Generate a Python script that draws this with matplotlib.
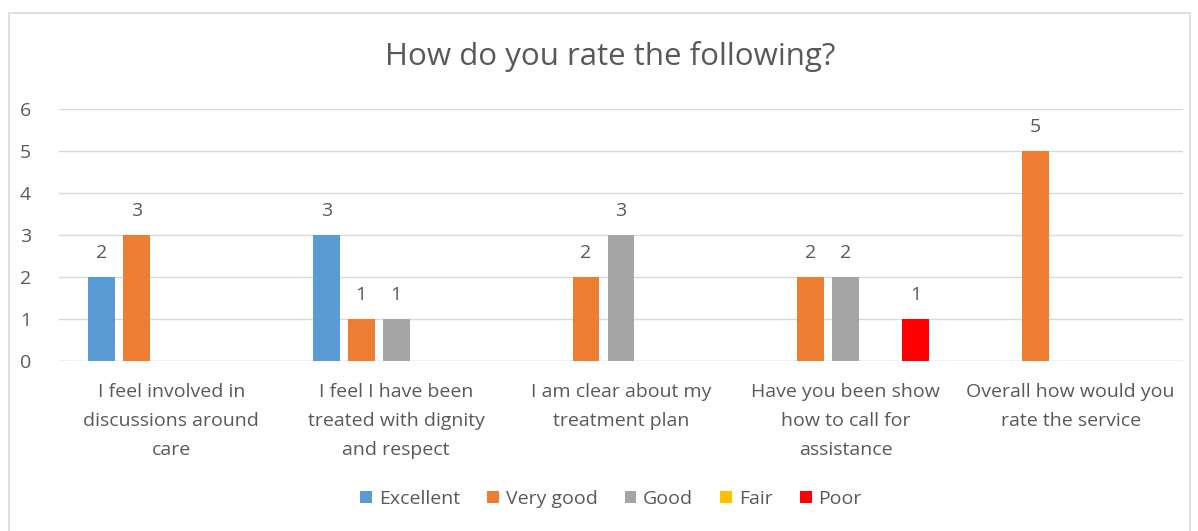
import matplotlib
matplotlib.use("Agg")
import matplotlib.pyplot as plt
import numpy as np
from matplotlib.patches import Rectangle

categories = [
    "I feel involved in\ndiscussions around\ncare",
    "I feel I have been\ntreated with dignity\nand respect",
    "I am clear about my\ntreatment plan",
    "Have you been show\nhow to call for\nassistance",
    "Overall how would you\nrate the service",
]
series_names = ["Excellent", "Very good", "Good", "Fair", "Poor"]
excellent = [2, 3, 0, 0, 0]
very_good = [3, 1, 2, 2, 5]
good = [0, 1, 3, 2, 0]
fair = [0, 0, 0, 0, 0]
poor = [0, 0, 0, 1, 0]
colors = ["#5B9BD5", "#ED7D31", "#A5A5A5", "#FFC000", "#FF0000"]

series = [excellent, very_good, good, fair, poor]

plt.rcParams['font.family'] = ['Open Sans', 'DejaVu Sans']
txt = "#595959"
fs = 14

fig = plt.figure(figsize=(11.98, 5.31), dpi=100)
ax = fig.add_axes([59/1198, 1-361/531, (1183-59)/1198, (361-109)/531])

x = np.arange(len(categories))
pitch = 0.1557
width = 0.12
for i, (name, vals, c) in enumerate(zip(series_names, series, colors)):
    offs = (i - 2) * pitch
    vals_arr = np.array(vals, dtype=float)
    masked = np.where(vals_arr == 0, np.nan, vals_arr)
    ax.bar(x + offs, masked, width=width, color=c, label=name, zorder=3)
    for xi, v in zip(x + offs, vals_arr):
        if v > 0:
            ax.text(xi, v + 0.36, f"{int(v)}", ha="center", va="bottom",
                    fontsize=fs, color=txt)

ax.set_xlim(-0.5, len(categories) - 0.5)
ax.set_ylim(0, 6)
ax.set_yticks(range(0, 7))
ax.yaxis.grid(True, color="#D9D9D9", linewidth=1, zorder=0)
ax.set_xticks(x)
ax.set_xticklabels(categories, fontsize=fs, color=txt, linespacing=1.76)
ax.tick_params(axis="both", length=0, labelsize=fs, labelcolor=txt)
ax.tick_params(axis="x", pad=16)
ax.tick_params(axis="y", pad=20)
for s in ax.spines.values():
    s.set_visible(False)
ax.axhline(0, color="#D9D9D9", linewidth=1, zorder=2)

fig.text(610/1198, 1-57/531, "How do you rate the following?", ha="center",
         va="center", fontsize=22.5, color=txt)

handles, labels = ax.get_legend_handles_labels()
leg = fig.legend(handles, labels, loc="center", bbox_to_anchor=(611/1198, 1-499/531),
                 ncol=5, frameon=False, fontsize=fs, handlelength=0.6, handleheight=0.6,
                 handletextpad=0.35, columnspacing=1.4)
for t in leg.get_texts():
    t.set_color(txt)

fig.add_artist(Rectangle((9/1198, -0.05), (1190-9)/1198, 1.05 - 13/531,
                         transform=fig.transFigure, fill=False,
                         edgecolor="#D9D9D9", linewidth=1.2))

fig.savefig("out.png", dpi=100, facecolor="white")
